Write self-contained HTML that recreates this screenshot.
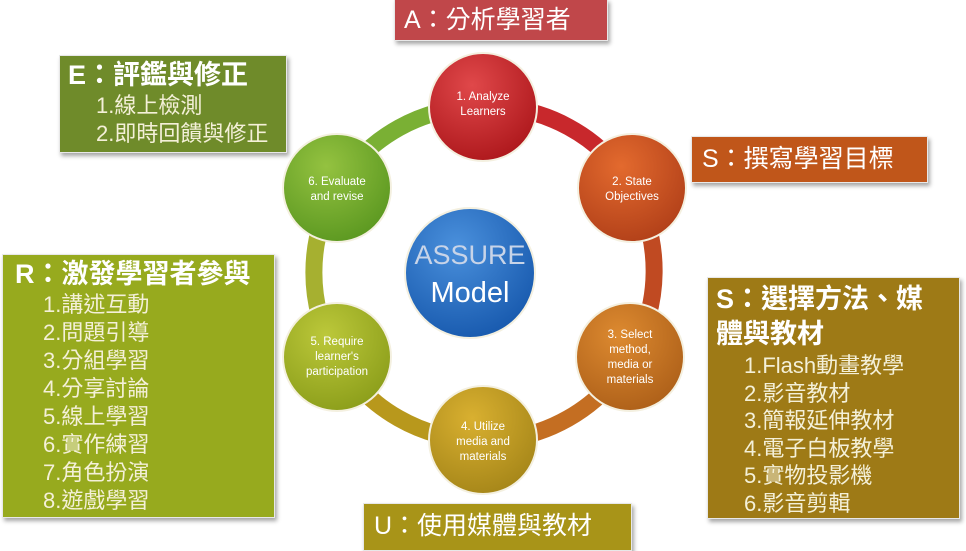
<!DOCTYPE html>
<html><head><meta charset="utf-8"><style>
body{margin:0;width:966px;height:548px;background:#fff;position:relative;overflow:hidden;font-family:"Liberation Sans","Noto Sans CJK TC",sans-serif;}
.b{position:absolute;color:#fff;box-shadow:2px 3px 4px rgba(0,0,0,.35);border:1px solid #e8e8e8;box-sizing:border-box;white-space:nowrap}
.t{font-size:27px;font-weight:bold;line-height:34px}
.i{font-size:22px;line-height:28px;color:#f4f0d8}
svg{position:absolute;left:0;top:0}
</style></head><body>
<svg width="966" height="548">
<defs>
<radialGradient id="g1" cx="40%" cy="30%" r="70%"><stop offset="0" stop-color="#e0484a"/><stop offset="1" stop-color="#b01a1e"/></radialGradient>
<radialGradient id="g2" cx="40%" cy="30%" r="70%"><stop offset="0" stop-color="#e36a2e"/><stop offset="1" stop-color="#b4421a"/></radialGradient>
<radialGradient id="g3" cx="40%" cy="30%" r="70%"><stop offset="0" stop-color="#dd8a30"/><stop offset="1" stop-color="#b0621a"/></radialGradient>
<radialGradient id="g4" cx="40%" cy="30%" r="70%"><stop offset="0" stop-color="#d9b030"/><stop offset="1" stop-color="#a8881a"/></radialGradient>
<radialGradient id="g5" cx="40%" cy="30%" r="70%"><stop offset="0" stop-color="#bcc83a"/><stop offset="1" stop-color="#8ea01c"/></radialGradient>
<radialGradient id="g6" cx="40%" cy="30%" r="70%"><stop offset="0" stop-color="#94c240"/><stop offset="1" stop-color="#5e9a22"/></radialGradient>
<radialGradient id="gc" cx="40%" cy="30%" r="70%"><stop offset="0" stop-color="#4a90dc"/><stop offset="1" stop-color="#1a5cb0"/></radialGradient>
</defs>
<path d="M483 107 A166 166 0 0 1 632 188" stroke="#c8282c" stroke-width="17" fill="none"/>
<path d="M632 188 A166 166 0 0 1 630 357" stroke="#c04a22" stroke-width="17" fill="none"/>
<path d="M630 357 A166 166 0 0 1 483 440" stroke="#c46e22" stroke-width="17" fill="none"/>
<path d="M483 440 A166 166 0 0 1 337 357" stroke="#b8981c" stroke-width="17" fill="none"/>
<path d="M337 357 A166 166 0 0 1 337 188" stroke="#a6b030" stroke-width="17" fill="none"/>
<path d="M337 188 A166 166 0 0 1 483 107" stroke="#7ab034" stroke-width="17" fill="none"/>
<g stroke="#f4f0e0" stroke-width="2">
<circle cx="483" cy="107" r="54" fill="url(#g1)"/>
<circle cx="632" cy="188" r="54" fill="url(#g2)"/>
<circle cx="630" cy="357" r="54" fill="url(#g3)"/>
<circle cx="483" cy="440" r="54" fill="url(#g4)"/>
<circle cx="337" cy="357" r="54" fill="url(#g5)"/>
<circle cx="337" cy="188" r="54" fill="url(#g6)"/>
<circle cx="470" cy="273" r="65" fill="url(#gc)"/>
</g>
<g font-family="Liberation Sans,sans-serif" font-size="11.5" fill="#fff" text-anchor="middle">
<text x="483" y="100">1. Analyze</text><text x="483" y="115">Learners</text>
<text x="632" y="185">2. State</text><text x="632" y="200">Objectives</text>
<text x="630" y="338">3. Select</text><text x="630" y="353">method,</text><text x="630" y="368">media or</text><text x="630" y="383">materials</text>
<text x="483" y="430">4. Utilize</text><text x="483" y="445">media and</text><text x="483" y="460">materials</text>
<text x="337" y="345">5. Require</text><text x="337" y="360">learner's</text><text x="337" y="375">participation</text>
<text x="337" y="185">6. Evaluate</text><text x="337" y="200">and revise</text>
<text x="470" y="264" font-size="27" fill="#c8d4e8">ASSURE</text>
<text x="470" y="302" font-size="29">Model</text>
</g>
</svg>
<div class="b t" style="left:394px;top:-1px;width:214px;height:42px;background:#c0474a;padding:3px 0 0 9px;font-size:25px;font-weight:normal">A：分析學習者</div>
<div class="b" style="left:59px;top:55px;width:228px;height:98px;background:#6f8b2a;padding:2px 0 0 8px"><div class="t">E：評鑑與修正</div><div class="i" style="padding-left:28px">1.線上檢測<br>2.即時回饋與修正</div></div>
<div class="b t" style="left:691px;top:136px;width:237px;height:47px;background:#c0561a;padding:5px 0 0 10px;font-weight:normal;font-size:25px">S：撰寫學習目標</div>
<div class="b" style="left:2px;top:254px;width:273px;height:264px;background:#97aa1e;padding:2px 0 0 12px"><div class="t">R：激發學習者參與</div><div class="i" style="padding-left:28px">1.講述互動<br>2.問題引導<br>3.分組學習<br>4.分享討論<br>5.線上學習<br>6.實作練習<br>7.角色扮演<br>8.遊戲學習</div></div>
<div class="b" style="left:707px;top:277px;width:253px;height:242px;background:#9e7a16;padding:4px 0 0 8px"><div class="t" style="line-height:35px">S：選擇方法、媒<br>體與教材</div><div class="i" style="padding-left:28px;line-height:27.5px">1.Flash動畫教學<br>2.影音教材<br>3.簡報延伸教材<br>4.電子白板教學<br>5.實物投影機<br>6.影音剪輯</div></div>
<div class="b t" style="left:363px;top:503px;width:269px;height:48px;background:#a89418;padding:5px 0 0 10px;font-weight:normal;font-size:25px">U：使用媒體與教材</div>
</body></html>
